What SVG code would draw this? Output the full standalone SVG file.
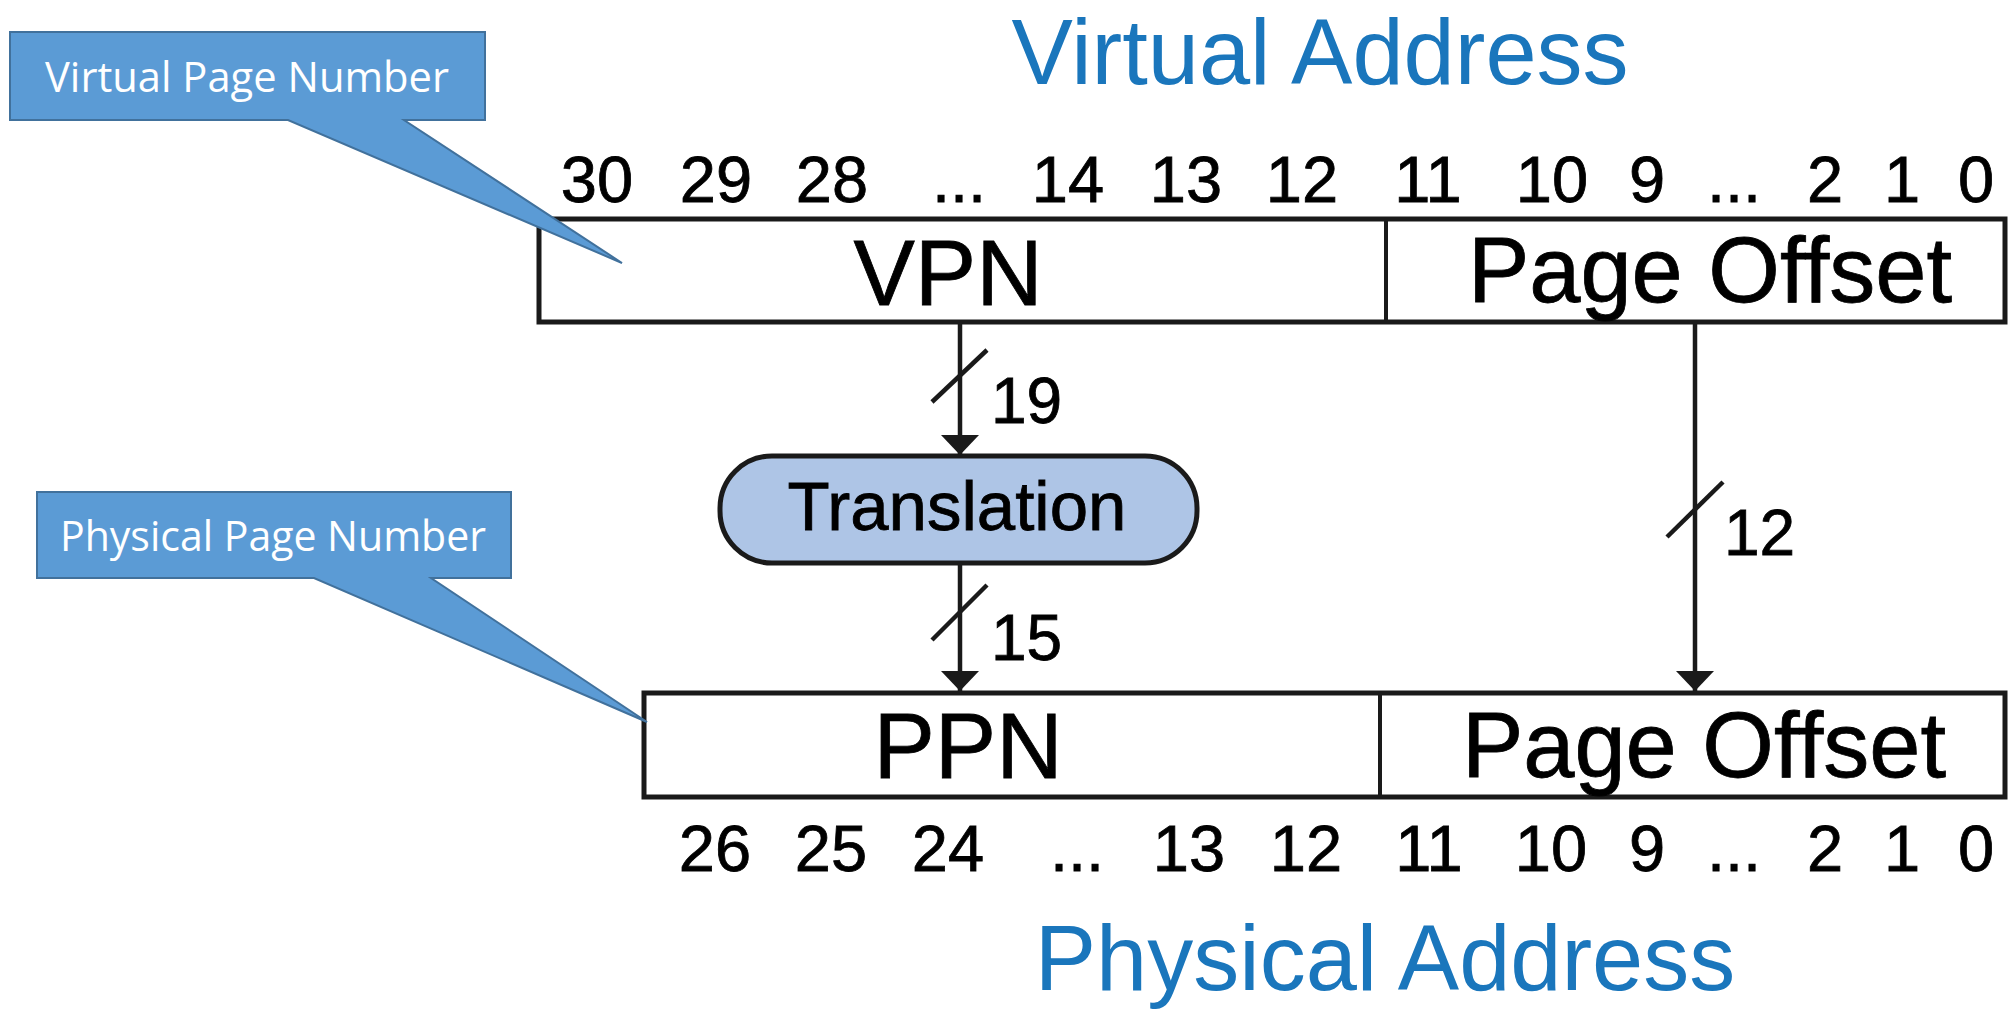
<svg xmlns="http://www.w3.org/2000/svg" width="2008" height="1009" viewBox="0 0 2008 1009">
<style>
.t{font-family:"Liberation Sans",Arial,sans-serif;fill:#000;stroke:#000;stroke-width:0.8;text-anchor:middle}
.bit{font-size:65px}
.fld{font-size:92px}
.title{font-family:"Liberation Sans",Arial,sans-serif;font-size:92px;fill:#1a76bc;text-anchor:middle}
.box{fill:#fff;stroke:#1a1a1a;stroke-width:5}
.div{stroke:#1a1a1a;stroke-width:4}
.wire{stroke:#1a1a1a;stroke-width:4.5;fill:none}
.slash{stroke:#1a1a1a;stroke-width:4.5}
.co{fill:#5b9bd5;stroke:#41719c;stroke-width:2}
.cot{font-family:"Open Sans","Noto Sans",sans-serif;font-size:42px;fill:#fff}
.bw{font-family:"Liberation Sans",Arial,sans-serif;font-size:64px;fill:#000;stroke:#000;stroke-width:0.8}
</style>
<defs>
<marker id="ah" markerUnits="userSpaceOnUse" markerWidth="20" markerHeight="38" refX="20" refY="19" orient="auto" viewBox="0 0 20 38">
<path d="M0,0 L20,19 L0,38 Z" fill="#1a1a1a"/>
</marker>
</defs>
<rect width="2008" height="1009" fill="#fff"/>
<text class="title" x="1320" y="84">Virtual Address</text>
<text class="title" x="1385" y="990">Physical Address</text>
<g id="va-bits" class="t bit">
<text x="597" y="202">30</text><text x="716" y="202">29</text><text x="832" y="202">28</text><text x="959" y="202">...</text>
<text x="1068" y="202">14</text><text x="1186" y="202">13</text><text x="1302" y="202">12</text><text x="1428" y="202">11</text>
<text x="1552" y="202">10</text><text x="1647" y="202">9</text><text x="1734" y="202">...</text><text x="1825" y="202">2</text>
<text x="1902" y="202">1</text><text x="1976" y="202">0</text>
</g>
<g id="va-box">
<rect class="box" x="539" y="219" width="1466" height="103"/>
<line class="div" x1="1386" y1="219" x2="1386" y2="322"/>
<text class="t fld" x="948" y="305">VPN</text>
<text class="t fld" x="1710" y="302">Page Offset</text>
</g>
<g id="translation">
<rect x="720" y="456" width="477" height="107" rx="52" ry="52" fill="#aec5e6" stroke="#1a1a1a" stroke-width="5"/>
<text class="t" x="957" y="530" font-size="69">Translation</text>
</g>
<g id="pa-box">
<rect class="box" x="644" y="693" width="1361" height="104"/>
<line class="div" x1="1380" y1="693" x2="1380" y2="797"/>
<text class="t fld" x="968" y="778">PPN</text>
<text class="t fld" x="1704" y="777">Page Offset</text>
</g>
<g id="pa-bits" class="t bit">
<text x="715" y="871">26</text><text x="831" y="871">25</text><text x="948" y="871">24</text><text x="1077" y="871">...</text>
<text x="1189" y="871">13</text><text x="1306" y="871">12</text><text x="1429" y="871">11</text><text x="1551" y="871">10</text>
<text x="1647" y="871">9</text><text x="1734" y="871">...</text><text x="1825" y="871">2</text><text x="1902" y="871">1</text><text x="1976" y="871">0</text>
</g>
<g id="connectors">
<line class="wire" x1="960" y1="322" x2="960" y2="455" marker-end="url(#ah)"/>
<line class="slash" x1="932" y1="402" x2="987" y2="350"/>
<text class="bw" x="991" y="423">19</text>
<line class="wire" x1="960" y1="563" x2="960" y2="691" marker-end="url(#ah)"/>
<line class="slash" x1="932" y1="640" x2="987" y2="585"/>
<text class="bw" x="991" y="660">15</text>
<line class="wire" x1="1695" y1="322" x2="1695" y2="691" marker-end="url(#ah)"/>
<line class="slash" x1="1667" y1="537" x2="1723" y2="482"/>
<text class="bw" x="1724" y="555">12</text>
</g>
<g id="callout-vpn">
<path class="co" d="M10,32 H485 V120 H404 L622,263 L288,120 H10 Z"/>
<text class="cot" x="45" y="92" textLength="404" lengthAdjust="spacingAndGlyphs">Virtual Page Number</text>
</g>
<g id="callout-ppn">
<path class="co" d="M37,492 H511 V578 H431 L647,722 L314,578 H37 Z"/>
<text class="cot" x="60" y="551" textLength="426" lengthAdjust="spacingAndGlyphs">Physical Page Number</text>
</g>
</svg>
